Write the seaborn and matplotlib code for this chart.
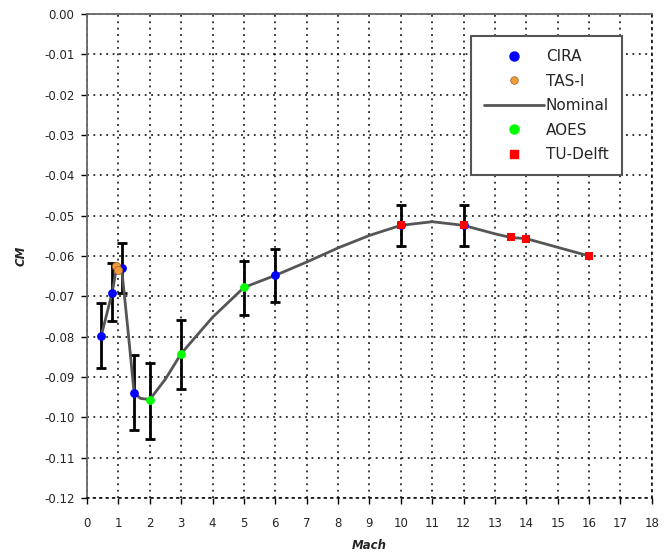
import numpy as np
import pandas as pd
import matplotlib
matplotlib.use("Agg")
import matplotlib.pyplot as plt
import seaborn as sns
from matplotlib.lines import Line2D

# values
cira_mach = [0.45, 0.8, 1.1, 1.5, 6, 10, 12]
cira_cm = [-0.0799, -0.0691, -0.0629, -0.0939, -0.0648, -0.0524, -0.0524]
cira_lo = [-0.0878, -0.0761, -0.0692, -0.1031, -0.0715, -0.0576, -0.0576]
cira_hi = [-0.0716, -0.0618, -0.0567, -0.0846, -0.0583, -0.0474, -0.0474]

tas_mach = [0.92, 1.0]
tas_cm = [-0.0625, -0.0634]

aoes_mach = [2, 3, 5]
aoes_cm = [-0.0956, -0.0842, -0.0678]
aoes_lo = [-0.1053, -0.0929, -0.0747]
aoes_hi = [-0.0865, -0.0758, -0.0612]

delft_mach = [10, 12, 13.5, 14, 16]
delft_cm = [-0.0524, -0.0524, -0.0554, -0.0557, -0.0600]

nom_mach = [0.45, 0.8, 0.95, 1.1, 1.3, 1.5, 1.7, 2, 2.5, 3, 4, 5, 6, 7, 8, 9, 10, 11, 12, 13, 13.5, 14, 16]
nom_cm = [-0.0799, -0.0691, -0.0625, -0.0629, -0.0780, -0.0939, -0.0953, -0.0956, -0.0905, -0.0842,
          -0.0752, -0.0678, -0.0648, -0.0615, -0.0580, -0.0549, -0.0524, -0.0515, -0.0524, -0.0545,
          -0.0554, -0.0557, -0.0600]

sns.set_style("white")
plt.rcParams['font.family'] = ['DejaVu Sans']

fig = plt.figure(figsize=(6.7, 5.54), dpi=100)
ax = fig.add_axes([0.1299, 0.1011, 0.843, 0.8736])

grid_ls = (0, (1.2, 3.0))
yticks = [-0.12, -0.11, -0.10, -0.09, -0.08, -0.07, -0.06, -0.05, -0.04, -0.03, -0.02, -0.01, 0.0]
ax.set_xlim(0, 18)
ax.set_ylim(-0.12, 0.0)
ax.set_xticks(range(0, 19))
ax.set_yticks(yticks)
ax.set_yticklabels(["0.00" if v == 0 else "%.2f" % v for v in yticks])
ax.grid(True, color="black", linestyle=grid_ls, linewidth=1.1)
ax.set_axisbelow(True)

for s in ["top", "left"]:
    ax.spines[s].set_color("#666666")
    ax.spines[s].set_linewidth(1.3)
for s in ["bottom", "right"]:
    ax.spines[s].set_color("black")
    ax.spines[s].set_linestyle(grid_ls)
    ax.spines[s].set_linewidth(1.1)

nom = pd.DataFrame({"Mach": nom_mach, "CM": nom_cm})
sns.lineplot(data=nom, x="Mach", y="CM", ax=ax, color="#555555", linewidth=2, zorder=3)

# error bars
ax.errorbar(cira_mach, cira_cm,
            yerr=[np.array(cira_cm) - np.array(cira_lo), np.array(cira_hi) - np.array(cira_cm)],
            fmt="none", ecolor="black", elinewidth=2, capsize=3.5, capthick=2, zorder=2)
ax.errorbar(aoes_mach, aoes_cm,
            yerr=[np.array(aoes_cm) - np.array(aoes_lo), np.array(aoes_hi) - np.array(aoes_cm)],
            fmt="none", ecolor="black", elinewidth=2, capsize=3.5, capthick=2, zorder=2)

ax.scatter(cira_mach, cira_cm, s=40, color="#0000ff", zorder=4, linewidths=0)
ax.scatter(tas_mach, tas_cm, s=35, color="#f09a3a", edgecolors="#a06020", linewidths=0.5, zorder=4)
ax.scatter(aoes_mach, aoes_cm, s=40, color="#00ff00", zorder=4, linewidths=0)
ax.scatter(delft_mach, delft_cm, s=28, marker="s", color="#ff0000", zorder=5, linewidths=0)

ax.tick_params(axis="both", labelsize=8.5, length=4, width=1, color="black",
               direction="out", bottom=True, left=True)
ax.tick_params(axis="x", pad=10)
ax.tick_params(axis="y", pad=5)
ax.set_xlabel("Mach", fontsize=8.5, fontweight="bold", style="italic", labelpad=6)
ax.set_ylabel("CM", fontsize=8.5, fontweight="bold", style="italic", labelpad=12)

handles = [
    Line2D([], [], marker="o", color="#0000ff", linestyle="none", markersize=6.5),
    Line2D([], [], marker="o", color="#f09a3a", markeredgecolor="#a06020",
           markeredgewidth=0.5, linestyle="none", markersize=5.5),
    Line2D([], [], color="#555555", linewidth=2),
    Line2D([], [], marker="o", color="#00ff00", linestyle="none", markersize=6.5),
    Line2D([], [], marker="s", color="#ff0000", linestyle="none", markersize=5.5),
]
labels = ["CIRA", "TAS-I", "Nominal", "AOES", "TU-Delft"]
leg = ax.legend(handles, labels, loc="upper right", bbox_to_anchor=(0.947, 0.954),
                borderaxespad=0, fontsize=11, labelspacing=0.62, handlelength=3.9,
                handletextpad=0.15, borderpad=0.85, fancybox=False, framealpha=1,
                edgecolor="#555555")
leg.get_frame().set_linewidth(1.5)

fig.savefig("out.png", dpi=100)
